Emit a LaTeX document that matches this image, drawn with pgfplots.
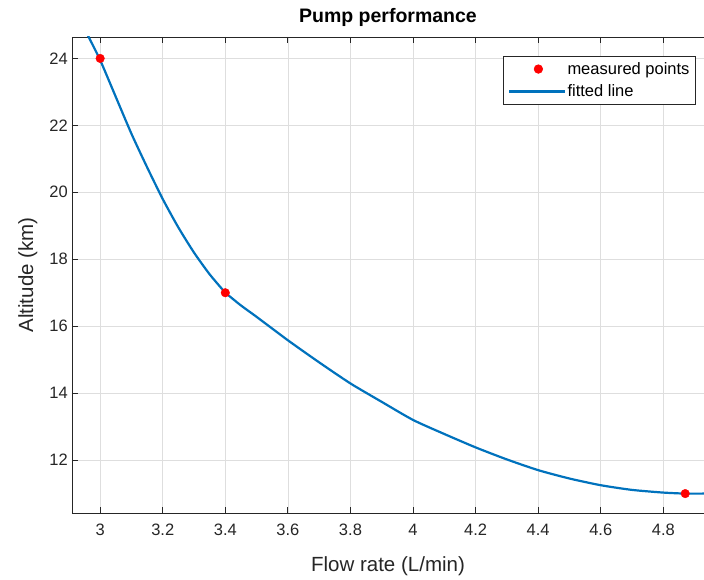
\documentclass[border=0pt]{standalone}
\usepackage{pgfplots}
\pgfplotsset{compat=1.18}
\usepackage{fontspec}
\setmainfont{Liberation Sans}
\definecolor{mblue}{rgb}{0,0.447,0.741}
\definecolor{axgray}{rgb}{0.15,0.15,0.15}
\definecolor{gridgray}{rgb}{0.87,0.87,0.87}
\pgfplotsset{
  legmark/.style={legend image code/.code={\path[draw=none] (0pt,0pt) -- (56pt,0pt); \draw[##1] plot coordinates {(29pt,0pt)};}},
  legline/.style={legend image code/.code={\draw[##1] (0pt,0pt) -- (56pt,0pt);}},
}
\begin{document}
\begin{tikzpicture}
\begin{axis}[
  width=632pt, height=476pt, scale only axis,
  xmin=2.91, xmax=4.93, ymin=10.42, ymax=24.64,
  axis x line*=box, axis y line*=left,
  axis line style={axgray, line width=0.8pt},
  xtick={3,3.2,...,4.81}, ytick={12,14,...,24},
  xticklabels={3,3.2,3.4,3.6,3.8,4,4.2,4.4,4.6,4.8},
  tick align=inside, major tick length=6pt,
  tick style={axgray, line width=0.8pt},
  grid=major, major grid style={gridgray, line width=0.6pt},
  /pgf/number format/assume math mode=true,
  tick label style={font=\fontsize{16.5}{19}\selectfont, text=axgray},
  xticklabel style={inner sep=0pt, anchor=north, yshift=-11pt},
  yticklabel style={inner sep=0pt, anchor=east, xshift=-4pt},
  xlabel={Flow rate (L/min)}, ylabel={Altitude (km)},
  label style={font=\fontsize{20.5}{24}\selectfont, text=axgray},
  xlabel style={at={(axis description cs:0.5,0)}, anchor=base, inner sep=0pt, yshift=-58.7pt},
  ylabel style={at={(axis description cs:-0.0617,0.5)}, anchor=base, inner sep=0pt},
  title={\textbf{Pump performance}},
  title style={font=\fontsize{19.5}{23}\selectfont, at={(axis description cs:0.5,1)}, anchor=base, inner sep=0pt, yshift=8pt},
  legend style={at={(rel axis cs:0.987,0.96)}, anchor=north east, draw=axgray, line width=0.6pt,
    font=\fontsize{16.5}{19}\selectfont, row sep=7pt, inner xsep=5pt, inner ysep=5pt,
    nodes={inner sep=1pt}},
  legend cell align=left,
  clip=true,
]
\addplot[only marks, mark=*, mark size=4.3pt, color=red, mark options={fill=red, draw=red}, legmark]
  coordinates {(3,24) (3.4,17) (4.87,11)};
\addlegendentry{measured points}
\addplot[mblue, line width=2.2pt, smooth, tension=0.4, legline] coordinates {
(2.960,24.70) (3.0,23.95) (3.05,22.85) (3.1,21.75) (3.15,20.75) (3.2,19.80)
(3.25,18.95) (3.3,18.20) (3.35,17.55) (3.4,17.0)
};
\addlegendentry{fitted line}
\addplot[mblue, line width=2.2pt, smooth, tension=0.4, forget plot] coordinates {
(3.4,17.0) (3.45,16.62) (3.5,16.28) (3.6,15.58) (3.7,14.92) (3.8,14.29)
(3.9,13.74) (4.0,13.20) (4.1,12.78) (4.2,12.38) (4.3,12.02) (4.4,11.70)
(4.5,11.45) (4.6,11.25) (4.7,11.11) (4.8,11.03) (4.87,11.0) (4.93,11.0)
};
\coordinate (A) at (rel axis cs:0,0);
\coordinate (B) at (rel axis cs:1,1);
\end{axis}
\pgfresetboundingbox
\path ([shift={(-72pt,-66pt)}]A) rectangle ([shift={(0pt,37pt)}]B);
\end{tikzpicture}
\end{document}
